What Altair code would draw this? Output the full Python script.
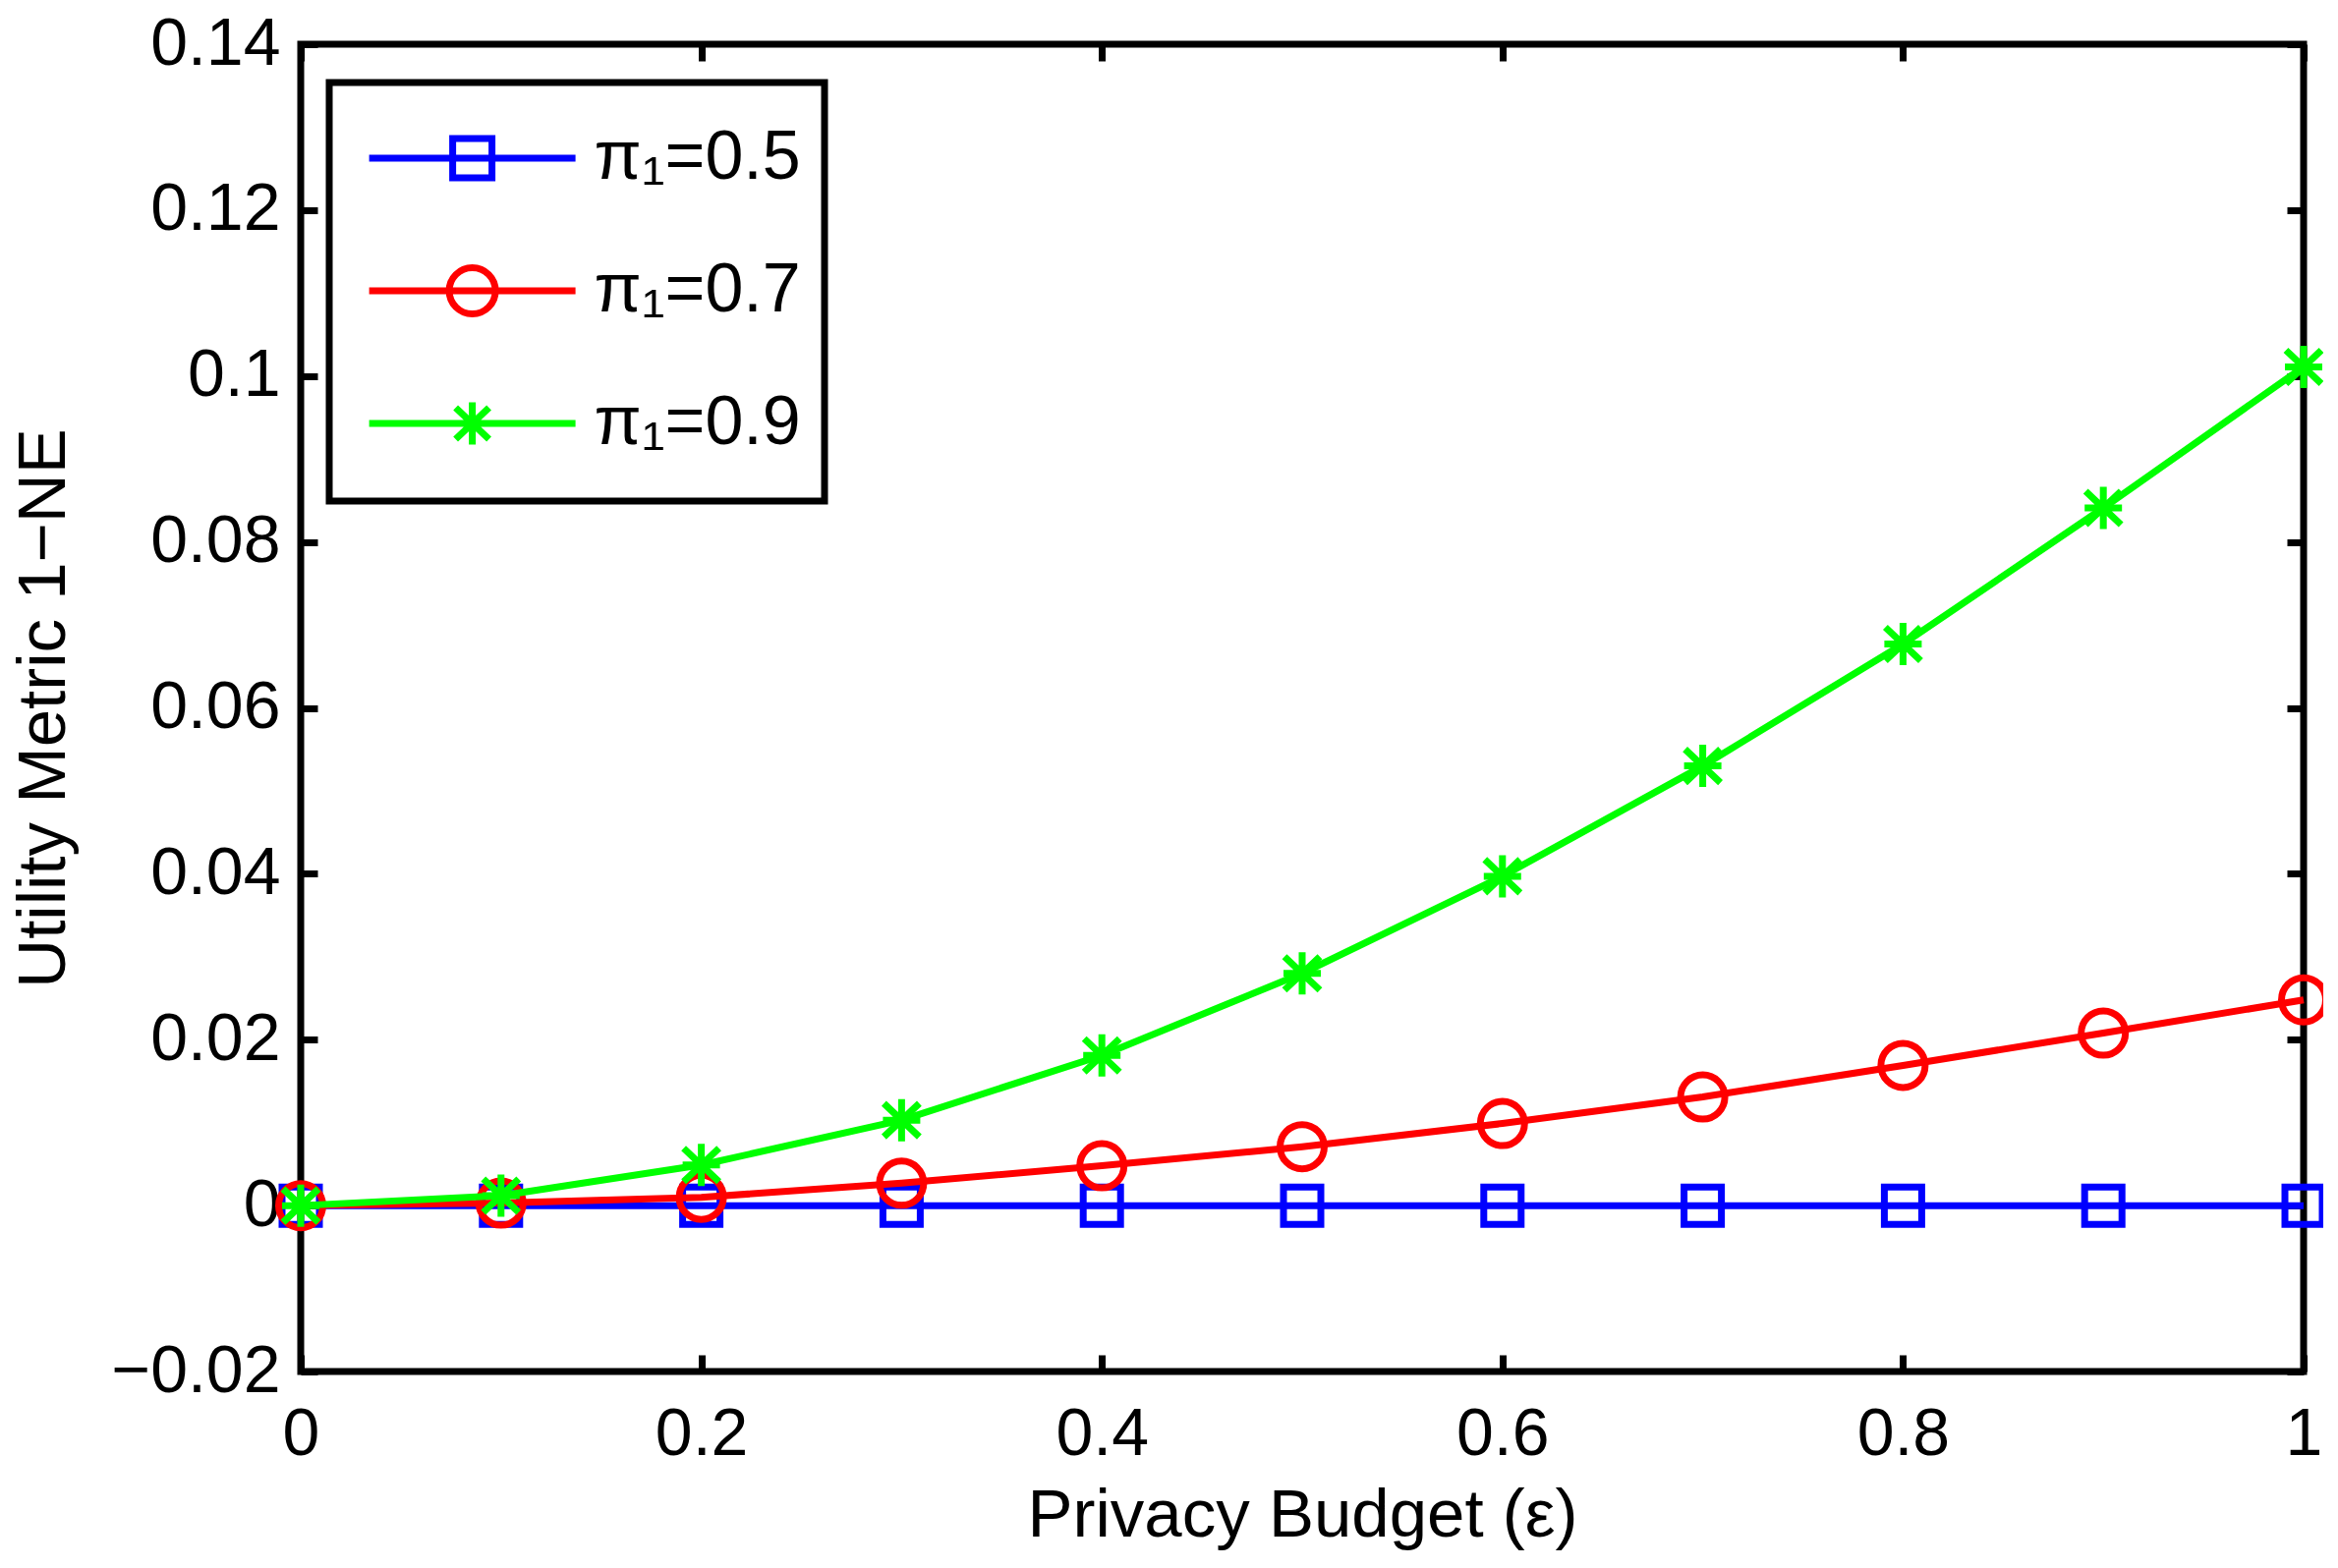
import altair as alt
import pandas as pd

# ---- data ----
x_vals = [0.0, 0.1, 0.2, 0.3, 0.4, 0.5, 0.6, 0.7, 0.8, 0.9, 1.0]
pi_05 = [0.0, 0.0, 0.0, 0.0, 0.0, 0.0, 0.0, 0.0, 0.0, 0.0, 0.0]
pi_07 = [0.0, 0.0003, 0.0010, 0.0027, 0.0048, 0.0071, 0.0099, 0.0131, 0.0169, 0.0208, 0.0248]
pi_09 = [0.0, 0.0012, 0.0049, 0.0103, 0.0181, 0.0280, 0.0397, 0.0530, 0.0677, 0.0841, 0.1011]
labels = ["π₁=0.5", "π₁=0.7", "π₁=0.9"]
colors = ["#0000ff", "#ff0000", "#00ff00"]
x_ticks = [0, 0.2, 0.4, 0.6, 0.8, 1.0]
y_ticks = [-0.02, 0, 0.02, 0.04, 0.06, 0.08, 0.10, 0.12, 0.14]

rows = []
for lab, ys in zip(labels, [pi_05, pi_07, pi_09]):
    for xv, yv in zip(x_vals, ys):
        rows.append({"eps": xv, "val": yv, "series": lab})
df = pd.DataFrame(rows)

W, H = 2038, 1351
FONT = "Liberation Sans"

# marker shapes (custom symbol paths)
SQ = "M-0.95,-0.95H0.95V0.95H-0.95Z"
CI = ("M1.125,0C1.125,0.621,0.621,1.125,0,1.125C-0.621,1.125,-1.125,0.621,-1.125,0"
      "C-1.125,-0.621,-0.621,-1.125,0,-1.125C0.621,-1.125,1.125,-0.621,1.125,0Z")
AS = "M0,-1.075V1.075M-0.95,0H0.95M-0.9,-0.85L0.9,0.85M-0.9,0.85L0.9,-0.85"
shapes = [SQ, CI, AS]

# legend symbols: line + marker (plus invisible moves to size the entry)
BND = "M-2.465,0M0,-1M0,0.82"
LN = "M-2.121,0H2.121"
LSQ = BND + LN + "M-0.404,-0.404H0.404V0.404H-0.404Z"
LCI = (BND + LN + "M0.475,0C0.475,0.262,0.262,0.475,0,0.475C-0.262,0.475,-0.475,0.262,-0.475,0"
       "C-0.475,-0.262,-0.262,-0.475,0,-0.475C0.262,-0.475,0.475,-0.262,0.475,0Z")
LAS = BND + LN + "M0,-0.434V0.434M-0.343,-0.323L0.343,0.323M-0.343,0.323L0.343,-0.323"
legend_shapes = [LSQ, LCI, LAS]

xscale = alt.Scale(domain=[0, 1], nice=False, zero=False)
yscale = alt.Scale(domain=[-0.02, 0.14], nice=False, zero=False)
cscale = alt.Scale(domain=labels, range=colors)

tick_style = dict(labels=False, domain=False, grid=False, ticks=True, tickSize=17,
                  tickWidth=7, tickColor="black", title=None)

axis_sets = [
    (
        alt.Axis(orient="bottom", values=x_ticks, format="~g", ticks=False, domain=False,
                 grid=False, labelFont=FONT, labelFontSize=68, labelColor="black",
                 labelPadding=30, labelFlush=False, labelOverlap=False,
                 title="Privacy Budget (ε)", titleFont=FONT, titleFontSize=69,
                 titleFontWeight="normal", titleColor="black", titleX=W / 2, titleY=167,
                 titleBaseline="alphabetic", titleAlign="center"),
        alt.Axis(orient="left", values=y_ticks, format="~g", ticks=False, domain=False,
                 grid=False, labelFont=FONT, labelFontSize=68, labelColor="black",
                 labelPadding=21, labelFlush=False, labelOverlap=False,
                 title="Utility Metric 1−NE", titleFont=FONT, titleFontSize=69,
                 titleFontWeight="normal", titleColor="black", titleX=-241, titleY=H / 2,
                 titleAngle=270, titleBaseline="alphabetic", titleAlign="center"),
    ),
    (
        alt.Axis(orient="top", offset=-H, values=x_ticks, **tick_style),
        alt.Axis(orient="right", offset=-W, values=y_ticks, **tick_style),
    ),
    (
        alt.Axis(orient="bottom", offset=-H, values=x_ticks, **tick_style),
        alt.Axis(orient="left", offset=-W, values=y_ticks, **tick_style),
    ),
]

layers = []
for i, lab in enumerate(labels):
    xa, ya = axis_sets[i]
    layer = (
        alt.Chart(df)
        .transform_filter(alt.datum.series == lab)
        .mark_line(
            strokeWidth=7, color=colors[i],
            point=alt.OverlayMarkDef(shape=shapes[i], size=1600, filled=False,
                                     color=colors[i], strokeWidth=7, opacity=1),
        )
        .encode(
            x=alt.X("eps:Q", scale=xscale, axis=xa),
            y=alt.Y("val:Q", scale=yscale, axis=ya),
        )
    )
    layers.append(layer)

legend_opts = dict(
    title=None, orient="none", legendX=29, legendY=39, padding=24,
    strokeColor="black", fillColor="white",
    labelFont=FONT, labelFontSize=70, labelColor="black", labelLimit=0,
    symbolSize=9801, symbolStrokeWidth=7, symbolOpacity=1, rowPadding=16,
    symbolOffset=68.6, labelOffset=71,
)

legend_layer = (
    alt.Chart(df)
    .transform_filter(alt.datum.eps > 5)
    .mark_point(filled=False, strokeWidth=7, opacity=1)
    .encode(
        x=alt.X("eps:Q", scale=xscale, axis=None),
        y=alt.Y("val:Q", scale=yscale, axis=None),
        color=alt.Color("series:N", scale=cscale, legend=alt.Legend(**legend_opts)),
        shape=alt.Shape("series:N", scale=alt.Scale(domain=labels, range=legend_shapes),
                        legend=alt.Legend(**legend_opts)),
    )
)

chart = (
    alt.layer(*layers, legend_layer)
    .resolve_axis(x="independent", y="independent")
    .properties(
        width=W, height=H, autosize="none", background="white",
        padding={"left": 298, "top": 37, "right": 20, "bottom": 190},
    )
    .configure(font=FONT)
    .configure_view(stroke="black", strokeWidth=7, fill="white")
    .configure_legend(strokeWidth=7)
)

chart.save("out.html", embed_options={"renderer": "svg", "actions": False})
